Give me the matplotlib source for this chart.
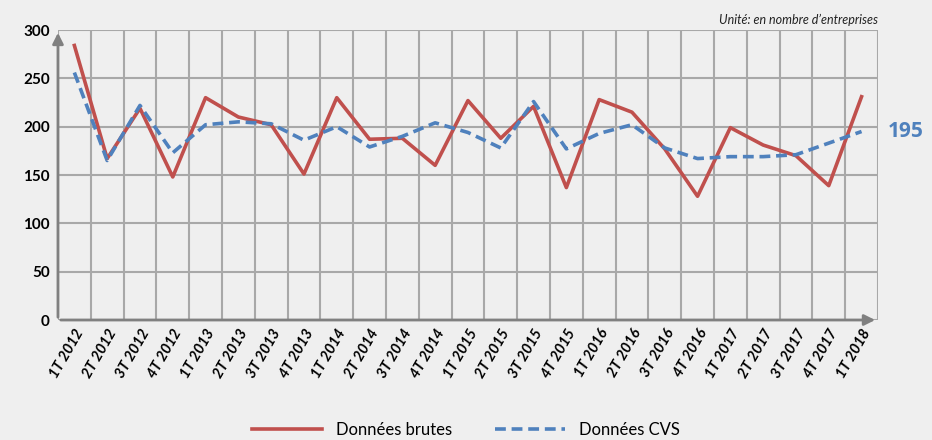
import matplotlib.pyplot as plt
import numpy as np

# --- DATA ---
trimestres = ["1T 2012", "2T 2012", "3T 2012", "4T 2012",
              "1T 2013", "2T 2013", "3T 2013", "4T 2013",
              "1T 2014", "2T 2014", "3T 2014", "4T 2014",
              "1T 2015", "2T 2015", "3T 2015", "4T 2015",
              "1T 2016", "2T 2016", "3T 2016", "4T 2016",
              "1T 2017", "2T 2017", "3T 2017", "4T 2017",
              "1T 2018"]
brutes = [284, 167, 219, 148, 230, 210, 202, 151, 230, 187, 188, 160,
          227, 188, 221, 137, 228, 215, 177, 128, 199, 181, 170, 139, 231]
cvs = [256, 165, 222, 173, 202, 205, 203, 186, 200, 179, 190, 204,
       194, 178, 226, 177, 193, 202, 178, 167, 169, 169, 171, 183, 195]
yticks = [0, 50, 100, 150, 200, 250, 300]

plt.rcParams['font.family'] = ['Lato', 'DejaVu Sans']

BG = "#efefef"
GRID = "#a8a8a8"
RED = "#c0504d"
BLUE = "#4f81bd"

fig = plt.figure(figsize=(9.32, 4.40), dpi=100, facecolor=BG)
ax = fig.add_axes([0.0622, 0.2727, 0.8798, 0.6591], facecolor=BG)

n = len(trimestres)
x = np.arange(n)
ax.set_xlim(-0.5, n - 0.5)
ax.set_ylim(0, 300)

# grille
for xv in np.arange(-0.5, n, 1.0):
    ax.axvline(xv, color=GRID, lw=1.5, zorder=1)
for yv in yticks:
    ax.axhline(yv, color=GRID, lw=1.5, zorder=1)

ax.plot(x, brutes, color=RED, lw=2.6, zorder=3, label="Données brutes")
ax.plot(x, cvs, color=BLUE, lw=2.6, ls=(0, (3, 1.6)), zorder=3, label="Données CVS")

for s in ax.spines.values():
    s.set_visible(False)

# axes avec fleches
ax.annotate("", xy=(n - 0.5, 0), xytext=(-0.5, 0),
            arrowprops=dict(arrowstyle="-|>", color="#808080", lw=2, mutation_scale=16),
            zorder=4, annotation_clip=False)
ax.annotate("", xy=(-0.5, 300), xytext=(-0.5, 0),
            arrowprops=dict(arrowstyle="-|>", color="#808080", lw=2, mutation_scale=16),
            zorder=4, annotation_clip=False)

ax.set_xticks(x)
ax.set_xticklabels(trimestres, rotation=60, ha="right", rotation_mode="anchor",
                   fontsize=10.5, fontweight="bold", fontstyle="italic")
ax.set_yticks(yticks)
ax.set_yticklabels([str(v) for v in yticks], fontsize=11, fontweight="bold")
ax.tick_params(length=0, pad=6)
ax.tick_params(axis="x", pad=5)

ax.text(1.0, 1.015, "Unité: en nombre d\u2019entreprises", transform=ax.transAxes,
        ha="right", va="bottom", fontsize=9, fontstyle="italic", color="#222222")
ax.annotate(str(cvs[-1]), xy=(x[-1], cvs[-1]), xytext=(19, 0), textcoords="offset points",
            ha="left", va="center", fontsize=15, fontweight="bold", color=BLUE,
            family=["Open Sans", "DejaVu Sans"], annotation_clip=False)

leg = fig.legend(loc="lower center", bbox_to_anchor=(0.5, -0.03), ncol=2, frameon=False,
                 fontsize=12, handlelength=4.2, columnspacing=2.6)

fig.savefig("out.png", dpi=100, facecolor=BG)
